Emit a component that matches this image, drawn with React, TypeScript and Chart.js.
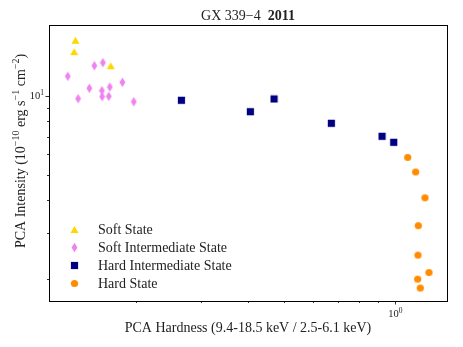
import React, { useEffect, useRef } from "react";
import { Chart, registerables } from "chart.js";

Chart.register(...registerables);

// ---- data ----
const softX = [0.1376, 0.1365, 0.1713];
const softY = [16.32, 14.76, 13.05];

const simsX = [0.1312, 0.1547, 0.1631, 0.1399, 0.15, 0.1621, 0.1624, 0.1703, 0.1692, 0.1841, 0.1975];
const simsY = [11.89, 13.05, 13.4, 9.77, 10.7, 10.48, 9.94, 10.82, 9.97, 11.28, 9.51];

const himsX = [0.2653, 0.4068, 0.4711, 0.6719, 0.9198, 0.9889];
const himsY = [9.63, 8.71, 9.74, 7.87, 7.02, 6.66];

const hardX = [1.0785, 1.1331, 1.2005, 1.1515, 1.1495, 1.2307, 1.1474, 1.1659];
const hardY = [5.83, 5.13, 4.09, 3.2, 2.47, 2.12, 2.0, 1.85];

const seriesNames = ["Soft State", "Soft Intermediate State", "Hard Intermediate State", "Hard State"];
const seriesColors = ["#FFD700", "#EE82EE", "#000080", "#FF8C00"];

const xLimits = [0.1168, 1.376];
const yLimits = [1.651, 18.66];
const xMinorTicks = [0.2, 0.3, 0.4, 0.5, 0.6, 0.7, 0.8, 0.9];
const xMajorTicks = [1];
const yMinorTicks = [2, 3, 4, 5, 6, 7, 8, 9];
const yMajorTicks = [10];

const FONT = "'Liberation Serif', 'DejaVu Serif', serif";
const LABEL_SIZE = 14;

function makeMarker(shape: string, color: string): HTMLCanvasElement {
  const c = document.createElement("canvas");
  const w = shape === "diamond" ? 7 : 9;
  const h = shape === "diamond" ? 11 : 9;
  c.width = w;
  c.height = h;
  const g = c.getContext("2d")!;
  g.fillStyle = color;
  g.beginPath();
  const cx = w / 2, cy = h / 2;
  if (shape === "triangle") {
    g.moveTo(cx, cy - 3.6);
    g.lineTo(cx + 4, cy + 3.4);
    g.lineTo(cx - 4, cy + 3.4);
    g.closePath();
  } else if (shape === "diamond") {
    g.moveTo(cx, cy - 4.8);
    g.lineTo(cx + 2.9, cy);
    g.lineTo(cx, cy + 4.8);
    g.lineTo(cx - 2.9, cy);
    g.closePath();
  } else if (shape === "square") {
    g.rect(cx - 3.6, cy - 3.6, 7.2, 7.2);
  } else {
    g.arc(cx, cy, 3.6, 0, Math.PI * 2);
  }
  g.fill();
  return c;
}

function drawSup(ctx: CanvasRenderingContext2D, parts: [string, boolean][], x: number, y: number, size: number, supSize: number, align: "left" | "center" | "right") {
  let total = 0;
  for (const [t, sup] of parts) {
    ctx.font = `${sup ? supSize : size}px ${FONT}`;
    total += ctx.measureText(t).width;
  }
  let cx = align === "left" ? x : align === "center" ? x - total / 2 : x - total;
  ctx.textAlign = "left";
  ctx.textBaseline = "alphabetic";
  for (const [t, sup] of parts) {
    ctx.font = `${sup ? supSize : size}px ${FONT}`;
    ctx.fillText(t, cx, sup ? y - size * 0.4 : y);
    cx += ctx.measureText(t).width;
  }
}

export default function App() {
  const ref = useRef<HTMLCanvasElement>(null);
  useEffect(() => {
    const shapes = ["triangle", "diamond", "square", "circle"];
    const markers = shapes.map((s, i) => makeMarker(s, seriesColors[i]));
    const xs = [softX, simsX, himsX, hardX];
    const ys = [softY, simsY, himsY, hardY];

    const decor = {
      id: "decor",
      afterDraw(chart: any) {
        const ctx = chart.ctx as CanvasRenderingContext2D;
        const a = chart.chartArea;
        const sx = chart.scales.x;
        const sy = chart.scales.y;
        ctx.save();
        ctx.strokeStyle = "#000";
        ctx.fillStyle = "#000";
        // frame
        ctx.lineWidth = 1;
        ctx.strokeRect(Math.round(a.left) + 0.5, Math.round(a.top) + 0.5, Math.round(a.right - a.left), Math.round(a.bottom - a.top));
        // ticks
        ctx.lineWidth = 0.8;
        const tick = (x1: number, y1: number, x2: number, y2: number) => {
          ctx.beginPath();
          ctx.moveTo(x1, y1);
          ctx.lineTo(x2, y2);
          ctx.stroke();
        };
        for (const v of xMinorTicks) { const p = Math.round(sx.getPixelForValue(v)) + 0.5; tick(p, a.bottom, p, a.bottom + 2); }
        for (const v of xMajorTicks) { const p = Math.round(sx.getPixelForValue(v)) + 0.5; tick(p, a.bottom, p, a.bottom + 3.5); }
        for (const v of yMinorTicks) { const p = Math.round(sy.getPixelForValue(v)) + 0.5; tick(a.left, p, a.left - 2, p); }
        for (const v of yMajorTicks) { const p = Math.round(sy.getPixelForValue(v)) + 0.5; tick(a.left, p, a.left - 3.5, p); }
        // tick labels
        ctx.fillStyle = "#222";
        for (const v of yMajorTicks) {
          const p = sy.getPixelForValue(v);
          drawSup(ctx, [["10", false], [String(Math.round(Math.log10(v))), true]], a.left - 5, p + 3.5, 10.5, 7.5, "right");
        }
        for (const v of xMajorTicks) {
          const p = sx.getPixelForValue(v);
          drawSup(ctx, [["10", false], [String(Math.round(Math.log10(v))), true]], p, a.bottom + 16, 10.5, 7.5, "center");
        }
        // title
        ctx.fillStyle = "#222";
        const cxm = (a.left + a.right) / 2;
        ctx.font = `${LABEL_SIZE}px ${FONT}`;
        const t1 = "GX 339\u22124  ";
        const w1 = ctx.measureText(t1).width;
        ctx.font = `bold ${LABEL_SIZE}px ${FONT}`;
        const t2 = "2011";
        const w2 = ctx.measureText(t2).width;
        const tx = cxm - (w1 + w2) / 2;
        ctx.textBaseline = "alphabetic";
        ctx.textAlign = "left";
        ctx.font = `${LABEL_SIZE}px ${FONT}`;
        ctx.fillText(t1, tx, 20);
        ctx.font = `bold ${LABEL_SIZE}px ${FONT}`;
        ctx.fillText(t2, tx + w1, 20);
        // x label
        ctx.font = `${LABEL_SIZE}px ${FONT}`;
        ctx.textAlign = "center";
        ctx.fillText("PCA Hardness (9.4-18.5 keV / 2.5-6.1 keV)", cxm, 332);
        // y label
        ctx.save();
        ctx.translate(25, 151);
        ctx.rotate(-Math.PI / 2);
        drawSup(ctx, [["PCA Intensity (10", false], ["\u221210", true], [" erg s", false], ["\u22121", true], [" cm", false], ["\u22122", true], [")", false]], 0, 0, LABEL_SIZE, 10, "center");
        ctx.restore();
        // legend
        const rowY = [229, 247, 265, 283];
        ctx.font = `${LABEL_SIZE}px ${FONT}`;
        ctx.textAlign = "left";
        ctx.textBaseline = "middle";
        seriesNames.forEach((n, i) => {
          const m = markers[i];
          ctx.drawImage(m, Math.round(74 - m.width / 2), Math.round(rowY[i] - m.height / 2));
          ctx.fillStyle = "#222";
          ctx.fillText(n, 98, rowY[i] + 1);
        });
        ctx.restore();
      },
    };

    const chart = new Chart(ref.current!, {
      type: "scatter",
      data: {
        datasets: seriesNames.map((n, i) => ({
          label: n,
          data: xs[i].map((x, j) => ({ x, y: ys[i][j] })),
          pointStyle: markers[i] as any,
          pointRadius: 4,
          backgroundColor: seriesColors[i],
          borderColor: seriesColors[i],
        })),
      },
      options: {
        animation: false,
        responsive: false,
        events: [],
        layout: { padding: { top: 25, right: 16, left: 0, bottom: 0 } },
        plugins: { legend: { display: false }, title: { display: false }, tooltip: { enabled: false } },
        scales: {
          x: {
            type: "logarithmic",
            min: xLimits[0],
            max: xLimits[1],
            ticks: { display: false },
            grid: { display: false },
            border: { display: false },
            afterFit: (s: any) => { s.height = 46; },
          },
          y: {
            type: "logarithmic",
            min: yLimits[0],
            max: yLimits[1],
            ticks: { display: false },
            grid: { display: false },
            border: { display: false },
            afterFit: (s: any) => { s.width = 49; },
          },
        },
      },
      plugins: [decor],
    });
    return () => chart.destroy();
  }, []);

  return (
    <div style={{ position: "absolute", left: 0, top: 0, width: 463, height: 347, background: "#fff" }}>
      <canvas ref={ref} width={463} height={347} style={{ display: "block" }} />
    </div>
  );
}
